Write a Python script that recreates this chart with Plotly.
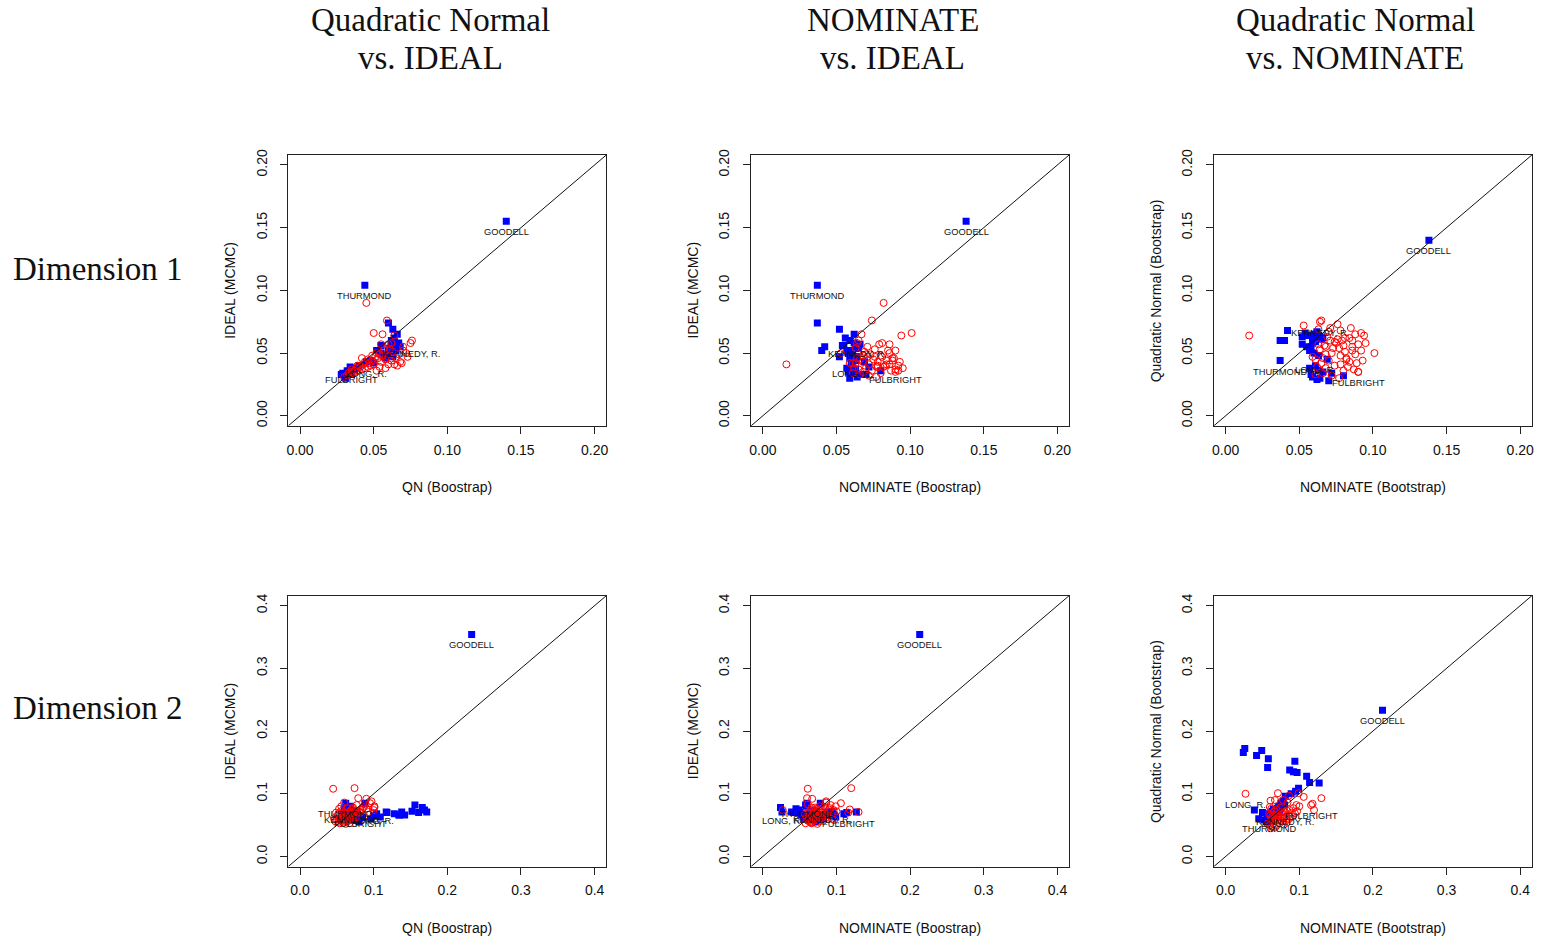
import plotly.graph_objects as go

# ---------------- data ----------------
# labelled senators
lab_names = ["GOODELL", "THURMOND", "KENNEDY, R.", "LONG, R.", "FULBRIGHT"]
lab_party = ["R", "R", "D", "D", "D"]
lab_qn1 = [0.140, 0.044, 0.075, 0.045, 0.035]
lab_nom1 = [0.138, 0.037, 0.064, 0.061, 0.090]
lab_ideal1 = [0.155, 0.104, 0.058, 0.042, 0.037]
lab_qn2 = [0.233, 0.062, 0.072, 0.100, 0.082]
lab_nom2 = [0.213, 0.060, 0.080, 0.027, 0.116]
lab_ideal2 = [0.354, 0.085, 0.076, 0.074, 0.070]

# Republicans (blue squares)
rep_qn1 = [0.060, 0.063, 0.068, 0.062, 0.066, 0.064, 0.060, 0.058, 0.055, 0.065,
           0.067, 0.064, 0.061, 0.059, 0.057, 0.062, 0.040, 0.045, 0.032, 0.028,
           0.029, 0.033, 0.036, 0.038, 0.050, 0.035, 0.031, 0.048, 0.034, 0.030,
           0.055, 0.066, 0.063, 0.052]
rep_nom1 = [0.037, 0.052, 0.042, 0.059, 0.054, 0.063, 0.040, 0.059, 0.058, 0.060,
            0.062, 0.056, 0.065, 0.061, 0.052, 0.066, 0.061, 0.069, 0.080, 0.070,
            0.062, 0.058, 0.063, 0.057, 0.060, 0.066, 0.059, 0.063, 0.072, 0.064,
            0.055, 0.062, 0.064, 0.057]
rep_ideal1 = [0.074, 0.069, 0.055, 0.060, 0.056, 0.055, 0.052, 0.046, 0.050, 0.052,
              0.058, 0.062, 0.054, 0.048, 0.047, 0.057, 0.040, 0.043, 0.036, 0.033,
              0.034, 0.035, 0.037, 0.038, 0.042, 0.033, 0.030, 0.044, 0.039, 0.031,
              0.056, 0.065, 0.047, 0.052]
rep_qn2 = [0.172, 0.166, 0.169, 0.161, 0.156, 0.142, 0.152, 0.138, 0.134, 0.118,
           0.117, 0.109, 0.104, 0.100, 0.096, 0.088, 0.077, 0.072, 0.064, 0.055,
           0.070, 0.068, 0.075, 0.080, 0.062, 0.058, 0.085, 0.066, 0.074, 0.060,
           0.135, 0.128, 0.082, 0.070]
rep_nom2 = [0.026, 0.024, 0.049, 0.042, 0.058, 0.057, 0.094, 0.087, 0.097, 0.114,
            0.127, 0.099, 0.095, 0.089, 0.081, 0.078, 0.070, 0.063, 0.056, 0.056,
            0.050, 0.059, 0.065, 0.072, 0.060, 0.052, 0.075, 0.068, 0.039, 0.045,
            0.092, 0.110, 0.080, 0.073]
rep_ideal2 = [0.071, 0.078, 0.074, 0.070, 0.082, 0.066, 0.072, 0.071, 0.066, 0.070,
              0.071, 0.063, 0.068, 0.065, 0.060, 0.085, 0.072, 0.068, 0.064, 0.060,
              0.070, 0.080, 0.058, 0.055, 0.062, 0.066, 0.062, 0.074, 0.071, 0.076,
              0.066, 0.068, 0.064, 0.058]

# Democrats (red open circles)
dem_qn1 = [0.045, 0.059, 0.064, 0.064, 0.050, 0.056, 0.072, 0.076, 0.070, 0.060,
           0.055, 0.052, 0.035, 0.060, 0.058, 0.055, 0.050, 0.048, 0.046, 0.044,
           0.042, 0.040, 0.038, 0.036, 0.034, 0.032, 0.030, 0.056, 0.062, 0.065,
           0.068, 0.066, 0.063, 0.053, 0.049, 0.047, 0.043, 0.041, 0.039, 0.037,
           0.057, 0.061, 0.054, 0.051, 0.067, 0.070, 0.058, 0.052, 0.046, 0.044,
           0.069, 0.073, 0.033, 0.039, 0.057, 0.062, 0.049, 0.042, 0.060, 0.054]
dem_nom1 = [0.082, 0.074, 0.016, 0.094, 0.101, 0.067, 0.053, 0.065, 0.071, 0.079,
            0.086, 0.086, 0.090, 0.071, 0.075, 0.068, 0.072, 0.078, 0.082, 0.070,
            0.065, 0.074, 0.068, 0.080, 0.066, 0.072, 0.077, 0.080, 0.084, 0.088,
            0.078, 0.092, 0.069, 0.064, 0.088, 0.059, 0.084, 0.078, 0.062, 0.087,
            0.090, 0.076, 0.073, 0.081, 0.070, 0.085, 0.095, 0.092, 0.066, 0.093,
            0.063, 0.076, 0.061, 0.083, 0.063, 0.081, 0.068, 0.089, 0.086, 0.077]
dem_ideal1 = [0.090, 0.076, 0.041, 0.064, 0.066, 0.065, 0.050, 0.060, 0.055, 0.057,
              0.057, 0.050, 0.035, 0.047, 0.045, 0.043, 0.041, 0.040, 0.039, 0.038,
              0.037, 0.036, 0.035, 0.034, 0.033, 0.032, 0.031, 0.048, 0.044, 0.046,
              0.043, 0.040, 0.051, 0.046, 0.044, 0.042, 0.041, 0.039, 0.038, 0.036,
              0.052, 0.053, 0.049, 0.047, 0.049, 0.052, 0.038, 0.036, 0.045, 0.043,
              0.042, 0.047, 0.034, 0.040, 0.054, 0.058, 0.048, 0.046, 0.041, 0.039]
dem_qn2 = [0.045, 0.074, 0.079, 0.090, 0.097, 0.101, 0.093, 0.095, 0.084, 0.080,
           0.101, 0.089, 0.090, 0.050, 0.052, 0.055, 0.057, 0.060, 0.062, 0.064,
           0.066, 0.068, 0.070, 0.072, 0.054, 0.048, 0.046, 0.058, 0.061, 0.063,
           0.065, 0.067, 0.069, 0.071, 0.073, 0.075, 0.077, 0.056, 0.053, 0.049,
           0.051, 0.059, 0.062, 0.066, 0.070, 0.074, 0.078, 0.082, 0.086, 0.060,
           0.064, 0.057, 0.052, 0.068, 0.072, 0.076, 0.054, 0.063, 0.067, 0.058]
dem_nom2 = [0.061, 0.120, 0.060, 0.067, 0.086, 0.099, 0.130, 0.106, 0.118, 0.100,
            0.071, 0.061, 0.078, 0.060, 0.065, 0.070, 0.075, 0.068, 0.080, 0.072,
            0.085, 0.078, 0.090, 0.066, 0.058, 0.063, 0.067, 0.082, 0.062, 0.088,
            0.064, 0.071, 0.094, 0.076, 0.083, 0.069, 0.092, 0.077, 0.073, 0.069,
            0.079, 0.066, 0.074, 0.061, 0.081, 0.087, 0.074, 0.096, 0.084, 0.086,
            0.091, 0.064, 0.057, 0.059, 0.097, 0.062, 0.083, 0.077, 0.066, 0.071]
dem_ideal2 = [0.108, 0.109, 0.093, 0.092, 0.088, 0.080, 0.071, 0.085, 0.075, 0.072,
              0.078, 0.083, 0.076, 0.060, 0.055, 0.058, 0.062, 0.066, 0.070, 0.064,
              0.068, 0.072, 0.075, 0.078, 0.053, 0.056, 0.061, 0.057, 0.059, 0.063,
              0.067, 0.071, 0.060, 0.065, 0.069, 0.073, 0.082, 0.080, 0.076, 0.070,
              0.065, 0.054, 0.052, 0.057, 0.061, 0.066, 0.070, 0.074, 0.079, 0.086,
              0.077, 0.073, 0.068, 0.063, 0.058, 0.062, 0.064, 0.056, 0.053, 0.069]

col_titles = [("Quadratic Normal", "vs. IDEAL"), ("NOMINATE", "vs. IDEAL"),
              ("Quadratic Normal", "vs. NOMINATE")]
row_titles = ["Dimension 1", "Dimension 2"]
x_titles = ["QN (Boostrap)", "NOMINATE (Boostrap)", "NOMINATE (Bootstrap)"]
y_titles = ["IDEAL (MCMC)", "IDEAL (MCMC)", "Quadratic Normal (Bootstrap)"]
ticks_dim1 = [0.00, 0.05, 0.10, 0.15, 0.20]
ticks_dim2 = [0.0, 0.1, 0.2, 0.3, 0.4]

# ---------------- figure ----------------
W, H = 1541, 939
col_px = [(287, 606), (751, 1070), (1215, 1534)]
row_px = [(150, 423), (594, 867)]
title_cx = [430, 893, 1357]

data_sets = {
    1: dict(qn=(rep_qn1, dem_qn1, lab_qn1), nom=(rep_nom1, dem_nom1, lab_nom1),
            ideal=(rep_ideal1, dem_ideal1, lab_ideal1)),
    2: dict(qn=(rep_qn2, dem_qn2, lab_qn2), nom=(rep_nom2, dem_nom2, lab_nom2),
            ideal=(rep_ideal2, dem_ideal2, lab_ideal2)),
}
panel_vars = [("qn", "ideal"), ("nom", "ideal"), ("nom", "qn")]

fig = go.Figure()
annotations = []
layout = {}
sans = "Liberation Sans, Arial, sans-serif"
tick_font = dict(family=sans, size=14, color="#111")
BLUE = "#0000FF"
RED = "#FF0000"

for r in range(2):
    dim = r + 1
    ds = data_sets[dim]
    tv = ticks_dim1 if dim == 1 else ticks_dim2
    fmt = "{:.2f}" if dim == 1 else "{:.1f}"
    span = tv[-1] - tv[0]
    rng = [tv[0] - 0.04 * span, tv[-1] + 0.04 * span]
    for c in range(3):
        n = r * 3 + c + 1
        sfx = "" if n == 1 else str(n)
        xref, yref = "x" + sfx, "y" + sfx
        x0, x1 = col_px[c]
        y0, y1 = row_px[r]
        common = dict(range=rng, tickvals=tv, ticktext=[fmt.format(v) for v in tv],
                      showline=True, mirror=True, linecolor="#222", linewidth=1,
                      ticks="outside", ticklen=7, tickcolor="#222", tickwidth=1,
                      showgrid=False, zeroline=False, tickfont=tick_font,
                      fixedrange=True)
        layout["xaxis" + sfx] = dict(domain=[x0 / W, x1 / W], anchor=yref,
                                     ticklabelstandoff=4, **common)
        layout["yaxis" + sfx] = dict(domain=[1 - y1 / H, 1 - y0 / H], anchor=xref,
                                     tickangle=-90, ticklabelstandoff=8, **common)

        xv, yv = panel_vars[c]
        rx, dx, lx = ds[xv]
        ry, dy, ly = ds[yv]
        rep_x = list(rx) + [lx[i] for i in range(len(lx)) if lab_party[i] == "R"]
        rep_y = list(ry) + [ly[i] for i in range(len(ly)) if lab_party[i] == "R"]
        dem_x = list(dx) + [lx[i] for i in range(len(lx)) if lab_party[i] == "D"]
        dem_y = list(dy) + [ly[i] for i in range(len(ly)) if lab_party[i] == "D"]
        fig.add_trace(go.Scatter(x=rep_x, y=rep_y, mode="markers", xaxis=xref, yaxis=yref,
                                 marker=dict(symbol="square", size=7, color=BLUE,
                                             line=dict(width=0)),
                                 showlegend=False, hoverinfo="skip"))
        fig.add_trace(go.Scatter(x=dem_x, y=dem_y, mode="markers", xaxis=xref, yaxis=yref,
                                 marker=dict(symbol="circle-open", size=7, color=RED,
                                             line=dict(width=1, color=RED)),
                                 showlegend=False, hoverinfo="skip"))
        fig.add_trace(go.Scatter(x=[rng[0], rng[1]], y=[rng[0], rng[1]], mode="lines",
                                 xaxis=xref, yaxis=yref,
                                 line=dict(color="#111", width=1),
                                 showlegend=False, hoverinfo="skip"))
        for i, name in enumerate(lab_names):
            annotations.append(dict(x=lx[i], y=ly[i], xref=xref, yref=yref, text=name,
                                    showarrow=False, yshift=-11,
                                    font=dict(family=sans, size=9.3, color="#111")))
        # axis titles
        annotations.append(dict(x=(x0 + x1) / 2 / W, y=1 - (y1 + 62) / H, xref="paper",
                                yref="paper", text=x_titles[c], showarrow=False,
                                xanchor="center", yanchor="middle",
                                font=dict(family=sans, size=14, color="#111")))
        annotations.append(dict(x=(x0 - 58) / W, y=1 - (y0 + y1) / 2 / H, xref="paper",
                                yref="paper", text=y_titles[c], showarrow=False,
                                textangle=-90, xanchor="center", yanchor="middle",
                                font=dict(family=sans, size=14, color="#111")))

serif = dict(family="Liberation Serif, Times New Roman, serif", size=33, color="#111")
for c in range(3):
    for k, line in enumerate(col_titles[c]):
        annotations.append(dict(x=title_cx[c] / W, y=1 - (14 + 38 * k) / H, xref="paper",
                                yref="paper", text=line, showarrow=False,
                                xanchor="center", yanchor="middle", font=serif))
for r in range(2):
    annotations.append(dict(x=96 / W, y=1 - (265 + 442 * r) / H, xref="paper",
                            yref="paper", text=row_titles[r], showarrow=False,
                            xanchor="center", yanchor="middle", font=serif))

fig.update_layout(width=W, height=H, margin=dict(l=0, r=0, t=0, b=0),
                  paper_bgcolor="white", plot_bgcolor="white",
                  annotations=annotations, **layout)
fig.write_html("out.html", config={"displayModeBar": False},
               post_script="document.body.style.margin='0';document.body.style.overflow='hidden';")
